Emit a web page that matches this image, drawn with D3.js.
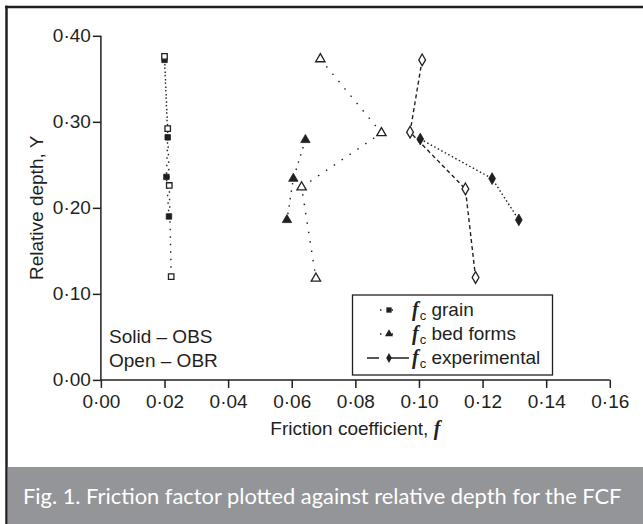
<!DOCTYPE html>
<html>
<head>
<meta charset="utf-8">
<script src="https://cdn.jsdelivr.net/npm/d3@7"></script>
<style>
  html, body { margin: 0; padding: 0; background: #fff; }
  svg { display: block; }
</style>
</head>
<body>
<svg id="chart" width="643" height="524"></svg>
<script>
// ---------- data ----------
const xTicks = [0, 0.02, 0.04, 0.06, 0.08, 0.10, 0.12, 0.14, 0.16];
const yTicks = [0, 0.10, 0.20, 0.30, 0.40];

// f_c grain
const grainOBS_f = [0.0200, 0.0210, 0.0206, 0.0214];
const grainOBS_y = [0.372, 0.282, 0.236, 0.190];
const grainOBR_f = [0.0200, 0.0210, 0.0215, 0.0221];
const grainOBR_y = [0.376, 0.292, 0.226, 0.120];

// f_c bed forms
const bedOBS_f = [0.0643, 0.0605, 0.0585];
const bedOBS_y = [0.279, 0.234, 0.186];
const bedOBR_f = [0.0690, 0.0882, 0.0631, 0.0676];
const bedOBR_y = [0.373, 0.287, 0.224, 0.118];

// f_c experimental
const expOBS_f = [0.1004, 0.1230, 0.1314];
const expOBS_y = [0.280, 0.234, 0.186];
const expOBR_f = [0.1010, 0.0972, 0.1146, 0.1178];
const expOBR_y = [0.372, 0.288, 0.222, 0.119];

const legendLabels = ["grain", "bed forms", "experimental"];
const noteLines = ["Solid \u2013 OBS", "Open \u2013 OBR"];
const captionText = "Fig. 1. Friction factor plotted against relative depth for the FCF";

// ---------- drawing ----------
const svg = d3.select("#chart");
const ink = "#231f20";
const sans = "'Liberation Sans', Arial, sans-serif";
const FS = 19;

// frame border (top & left)
svg.append("line").attr("x1", 5).attr("x2", 643).attr("y1", 7).attr("y2", 7)
  .attr("stroke", ink).attr("stroke-width", 2.5);
svg.append("line").attr("x1", 6.5).attr("x2", 6.5).attr("y1", 5.8).attr("y2", 524)
  .attr("stroke", ink).attr("stroke-width", 2.5);

// caption band
svg.append("rect").attr("x", 7.75).attr("y", 467).attr("width", 643 - 7.75).attr("height", 57)
  .attr("fill", "#939598");
const cap = svg.append("text").attr("x", 23).attr("y", 504)
  .attr("fill", "#ffffff").attr("font-family", "Lato, 'Open Sans', sans-serif")
  .attr("font-size", 21).text(captionText);
{
  const w = cap.node().getComputedTextLength();
  cap.attr("font-size", 21 * 599 / w);
}

const x = d3.scaleLinear().domain([0, 0.16]).range([100.9, 609.8]);
const y = d3.scaleLinear().domain([0, 0.40]).range([379.9, 35.8]);
const fmt = d => d3.format(".2f")(d).replace(".", "\u00B7");

const gx = svg.append("g").attr("transform", `translate(0,${y(0)})`)
  .call(d3.axisBottom(x).tickValues(xTicks).tickFormat(fmt).tickSize(8).tickPadding(7));
const gy = svg.append("g").attr("transform", `translate(${x(0)},0)`)
  .call(d3.axisLeft(y).tickValues(yTicks).tickFormat(fmt).tickSize(8).tickPadding(2));
[gx, gy].forEach(g => {
  g.selectAll("path.domain").attr("stroke", ink).attr("stroke-width", 1.5);
  g.selectAll(".tick line").attr("stroke", ink).attr("stroke-width", 1.5);
  g.selectAll(".tick text").attr("fill", ink).attr("font-family", sans).attr("font-size", FS);
});
gx.select("path.domain").attr("d", `M${x(0)},0H${x(0.16)}`);
gy.select("path.domain").attr("d", `M0,${y(0.40)}V${y(0)}`);

// axis titles
const xt = svg.append("text").attr("x", (x(0) + x(0.16)) / 2).attr("y", 435)
  .attr("text-anchor", "middle").attr("fill", ink).attr("font-family", sans).attr("font-size", FS);
xt.append("tspan").text("Friction coefficient, ");
xt.append("tspan").attr("font-family", "'Liberation Serif', 'Times New Roman', serif")
  .attr("font-style", "italic").attr("font-weight", "bold").attr("font-size", 20).text("f");

svg.append("text")
  .attr("transform", `translate(43,${(y(0) + y(0.4)) / 2}) rotate(-90)`)
  .attr("text-anchor", "middle").attr("fill", ink).attr("font-family", sans).attr("font-size", FS)
  .text("Relative depth, Y");

// series
const line = d3.line().x(d => x(d[0])).y(d => y(d[1]));
const zip = (fs, ys) => fs.map((f, i) => [f, ys[i]]);

const series = [
  { pts: zip(grainOBS_f, grainOBS_y), sym: d3.symbolSquare, size: 30, filled: true, dash: "1.5,6" },
  { pts: zip(grainOBR_f, grainOBR_y), sym: d3.symbolSquare, size: 30, filled: false, dash: "1.5,6" },
  { pts: zip(bedOBS_f, bedOBS_y), sym: d3.symbolTriangle, size: 38, filled: true, dash: "1.5,6" },
  { pts: zip(bedOBR_f, bedOBR_y), sym: d3.symbolTriangle, size: 38, filled: false, dash: "1.5,8" },
  { pts: zip(expOBS_f, expOBS_y), sym: d3.symbolDiamond, size: 40, filled: true, dash: "1.5,2.5" },
  { pts: zip(expOBR_f, expOBR_y), sym: d3.symbolDiamond, size: 40, filled: false, dash: "4,3" }
];

series.forEach(s => {
  svg.append("path").attr("d", line(s.pts)).attr("fill", "none")
    .attr("stroke", ink).attr("stroke-width", 1.4).attr("stroke-dasharray", s.dash);
});
series.forEach(s => {
  svg.append("g").selectAll("path").data(s.pts).join("path")
    .attr("transform", d => `translate(${x(d[0])},${y(d[1])})`)
    .attr("d", d3.symbol().type(s.sym).size(s.size))
    .attr("fill", s.filled ? ink : "#fff")
    .attr("stroke", ink).attr("stroke-width", s.filled ? 0.8 : 1.3);
});

// Solid / Open note
noteLines.forEach((t, i) => {
  svg.append("text").attr("x", 109).attr("y", 343 + i * 24)
    .attr("fill", ink).attr("font-family", sans).attr("font-size", FS).text(t);
});

// legend
const lg = svg.append("g");
lg.append("rect").attr("x", 352.5).attr("y", 295).attr("width", 200).attr("height", 80)
  .attr("fill", "#fff").attr("stroke", ink).attr("stroke-width", 1.3);
const rowY = [310, 334, 358];
const legSyms = [d3.symbolSquare, d3.symbolTriangle, d3.symbolDiamond];
legendLabels.forEach((lab, i) => {
  const cy = rowY[i];
  if (i < 2) {
    lg.append("line").attr("x1", 380).attr("x2", 403).attr("y1", cy).attr("y2", cy)
      .attr("stroke", ink).attr("stroke-width", 1.4).attr("stroke-dasharray", "1.5,10");
  } else {
    lg.append("line").attr("x1", 367).attr("x2", 409).attr("y1", cy).attr("y2", cy)
      .attr("stroke", ink).attr("stroke-width", 1.4).attr("stroke-dasharray", "12,10,20");
  }
  lg.append("path").attr("transform", `translate(389,${cy})`)
    .attr("d", d3.symbol().type(legSyms[i]).size(28)).attr("fill", ink);
  const t = lg.append("text").attr("x", 412).attr("y", cy + 6)
    .attr("fill", ink).attr("font-family", sans).attr("font-size", FS);
  t.append("tspan").attr("font-family", "'Liberation Serif', 'Times New Roman', serif")
    .attr("font-style", "italic").attr("font-weight", "bold").attr("font-size", 20).text("f");
  t.append("tspan").attr("font-size", 13).attr("dy", 4).attr("dx", 1).text("c");
  t.append("tspan").attr("dy", -4).attr("dx", 0).text(" " + lab);
});
</script>
</body>
</html>
